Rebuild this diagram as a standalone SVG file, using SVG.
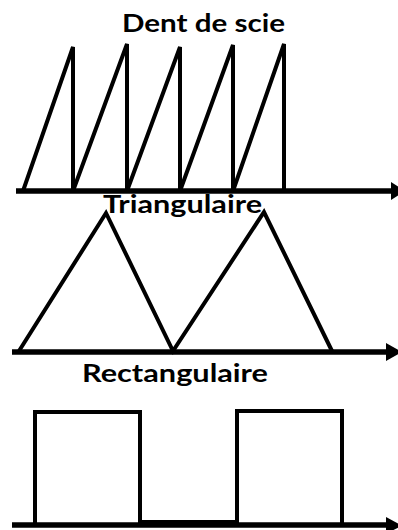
<svg xmlns="http://www.w3.org/2000/svg" width="398" height="530" viewBox="0 0 398 530">
<style>
.w{fill:none;stroke:#000;stroke-width:4;stroke-linejoin:miter}
.ax{stroke:#000;stroke-width:5.5}
.ah{fill:#000}
.t{font-family:"Lato","Open Sans",sans-serif;font-weight:bold;font-size:25px;fill:#000}
</style>
<rect width="398" height="530" fill="#fff"/>
<g id="sawtooth">
<text class="t" x="122" y="32" textLength="163" lengthAdjust="spacingAndGlyphs">Dent de scie</text>
<polyline class="w" points="23,191 73,47 73,191 127,44 127,191 180,47 180,191 233,45 233,191 284,44 284,191"/>
</g>
<g id="triangular">
<polyline class="w" points="19,351 106,213 173,351 264,212 332,351"/>
<text class="t" x="103" y="213" textLength="159" lengthAdjust="spacingAndGlyphs">Triangulaire</text>
</g>
<g id="rectangular">
<text class="t" x="82" y="382" textLength="186" lengthAdjust="spacingAndGlyphs">Rectangulaire</text>
<polyline class="w" points="35,523 35,412 140,412 140,522 237,522 237,411 342,411 342,523"/>
</g>
<g id="axes">
<line class="ax" x1="16" y1="191" x2="392" y2="191"/>
<polygon class="ah" points="391,182 405,191 391,200"/>
<line class="ax" x1="12" y1="352" x2="387" y2="352"/>
<polygon class="ah" points="386,343 402,352 386,361"/>
<line class="ax" x1="12" y1="525" x2="387" y2="525"/>
<polygon class="ah" points="386,517 402,525.5 386,534"/>
</g>
</svg>
